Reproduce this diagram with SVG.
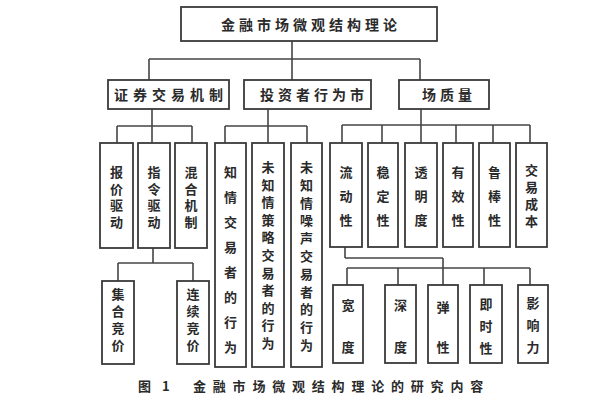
<svg xmlns="http://www.w3.org/2000/svg" width="602" height="400" viewBox="0 0 602 400">
<style>
.b{fill:#fff;stroke:#3a3a3a;stroke-width:1.8}
.t{font-family:"Noto Sans CJK SC","Noto Sans CJK JP",sans-serif;font-size:13px;font-weight:700;fill:#2a2a2a;text-anchor:middle}
.h{font-size:14px;letter-spacing:4px}
.c line{stroke:#444;stroke-width:1.6}
</style>
<rect width="602" height="400" fill="#fff"/>
<g class="c" id="connectors">
<line x1="292" y1="41" x2="292" y2="80"/>
<line x1="149" y1="59" x2="420" y2="59"/>
<line x1="149" y1="59" x2="149" y2="80"/>
<line x1="420" y1="59" x2="420" y2="80"/>
<line x1="152" y1="109" x2="152" y2="143"/>
<line x1="117" y1="126" x2="192" y2="126"/>
<line x1="117" y1="126" x2="117" y2="143"/>
<line x1="192" y1="126" x2="192" y2="143"/>
<line x1="268" y1="109" x2="268" y2="143"/>
<line x1="225" y1="126" x2="307" y2="126"/>
<line x1="225" y1="126" x2="225" y2="143"/>
<line x1="307" y1="126" x2="307" y2="143"/>
<line x1="421" y1="109" x2="421" y2="143"/>
<line x1="342" y1="125" x2="530" y2="125"/>
<line x1="342" y1="125" x2="342" y2="143"/>
<line x1="382" y1="125" x2="382" y2="143"/>
<line x1="456" y1="125" x2="456" y2="143"/>
<line x1="493" y1="125" x2="493" y2="143"/>
<line x1="530" y1="125" x2="530" y2="143"/>
<line x1="153" y1="248" x2="153" y2="263"/>
<line x1="118" y1="263" x2="193" y2="263"/>
<line x1="118" y1="263" x2="118" y2="281"/>
<line x1="193" y1="263" x2="193" y2="281"/>
<line x1="345" y1="247" x2="345" y2="258"/>
<line x1="345" y1="258" x2="443" y2="258"/>
<line x1="443" y1="258" x2="443" y2="285"/>
<line x1="347" y1="268" x2="530" y2="268"/>
<line x1="347" y1="268" x2="347" y2="285"/>
<line x1="398" y1="268" x2="398" y2="285"/>
<line x1="484" y1="268" x2="484" y2="285"/>
<line x1="530" y1="268" x2="530" y2="285"/>
</g>
<g id="root"><rect class="b" x="181" y="7" width="256" height="34"/><text class="t h" x="311" y="30">金融市场微观结构理论</text></g>
<g id="n1"><rect class="b" x="108" y="80" width="121" height="29"/><text class="t h" x="171" y="100" style="letter-spacing:5px">证券交易机制</text></g>
<g id="n2"><rect class="b" x="244" y="80" width="127" height="29"/><text class="t h" x="314" y="100">投资者行为市</text></g>
<g id="n3"><rect class="b" x="399" y="80" width="90" height="29"/><text class="t h" x="449" y="100">场质量</text></g>
<g id="n11"><rect class="b" x="100" y="143" width="33" height="105"/><text class="t" x="116.5 116.5 116.5 116.5" y="177 194 210 227">报价驱动</text></g>
<g id="n12"><rect class="b" x="138" y="143" width="32" height="105"/><text class="t" x="154 154 154 154" y="177 194 210 227">指令驱动</text></g>
<g id="n13"><rect class="b" x="175" y="143" width="32" height="105"/><text class="t" x="191 191 191 191" y="177 194 210 227">混合机制</text></g>
<g id="n121"><rect class="b" x="102" y="281" width="32" height="83"/><text class="t" x="118 118 118 118" y="299 316 333 350">集合竞价</text></g>
<g id="n122"><rect class="b" x="177" y="281" width="32" height="83"/><text class="t" x="193 193 193 193" y="299 316 333 350">连续竞价</text></g>
<g id="n21"><rect class="b" x="215" y="143" width="31" height="224"/><text class="t" x="230.5 230.5 230.5 230.5 230.5 230.5 230.5 230.5" y="177 202 227 252 277 302 327 352">知情交易者的行为</text></g>
<g id="n22"><rect class="b" x="252" y="143" width="32" height="224"/><text class="t" x="268 268 268 268 268 268 268 268 268 268 268" y="172 189.6 207.2 224.8 242.4 260 277.6 295.2 312.8 330.4 348">未知情策略交易者的行为</text></g>
<g id="n23"><rect class="b" x="291" y="143" width="31" height="224"/><text class="t" x="306.5 306.5 306.5 306.5 306.5 306.5 306.5 306.5 306.5 306.5 306.5" y="172 189.8 207.6 225.4 243.2 261 278.8 296.6 314.4 332.2 350">未知情噪声交易者的行为</text></g>
<g id="n31"><rect class="b" x="330" y="143" width="32" height="104"/><text class="t" x="346 346 346" y="177 201 225">流动性</text></g>
<g id="n32"><rect class="b" x="368" y="143" width="30" height="104"/><text class="t" x="383 383 383" y="177 201 225">稳定性</text></g>
<g id="n33"><rect class="b" x="405" y="143" width="32" height="104"/><text class="t" x="421 421 421" y="177 201 225">透明度</text></g>
<g id="n34"><rect class="b" x="443" y="143" width="30" height="104"/><text class="t" x="458 458 458" y="177 201 225">有效性</text></g>
<g id="n35"><rect class="b" x="479" y="143" width="31" height="104"/><text class="t" x="494.5 494.5 494.5" y="177 201 225">鲁棒性</text></g>
<g id="n36"><rect class="b" x="516" y="143" width="31" height="104"/><text class="t" x="531.5 531.5 531.5 531.5" y="175 192 209 226">交易成本</text></g>
<g id="n311"><rect class="b" x="333" y="285" width="30" height="78"/><text class="t" x="348 348" y="310 352">宽度</text></g>
<g id="n312"><rect class="b" x="385" y="285" width="31" height="78"/><text class="t" x="400.5 400.5" y="310 352">深度</text></g>
<g id="n313"><rect class="b" x="428" y="285" width="30" height="78"/><text class="t" x="443 443" y="312 352">弹性</text></g>
<g id="n314"><rect class="b" x="470" y="285" width="32" height="78"/><text class="t" x="486 486 486" y="309 331 353">即时性</text></g>
<g id="n315"><rect class="b" x="518" y="285" width="30" height="78"/><text class="t" x="533 533 533" y="308 330 352">影响力</text></g>
<text class="t" x="138" y="391" style="text-anchor:start;letter-spacing:4px">图 1</text>
<text class="t" x="193" y="391" style="text-anchor:start;letter-spacing:6.8px">金融市场微观结构理论的研究内容</text>
</svg>
